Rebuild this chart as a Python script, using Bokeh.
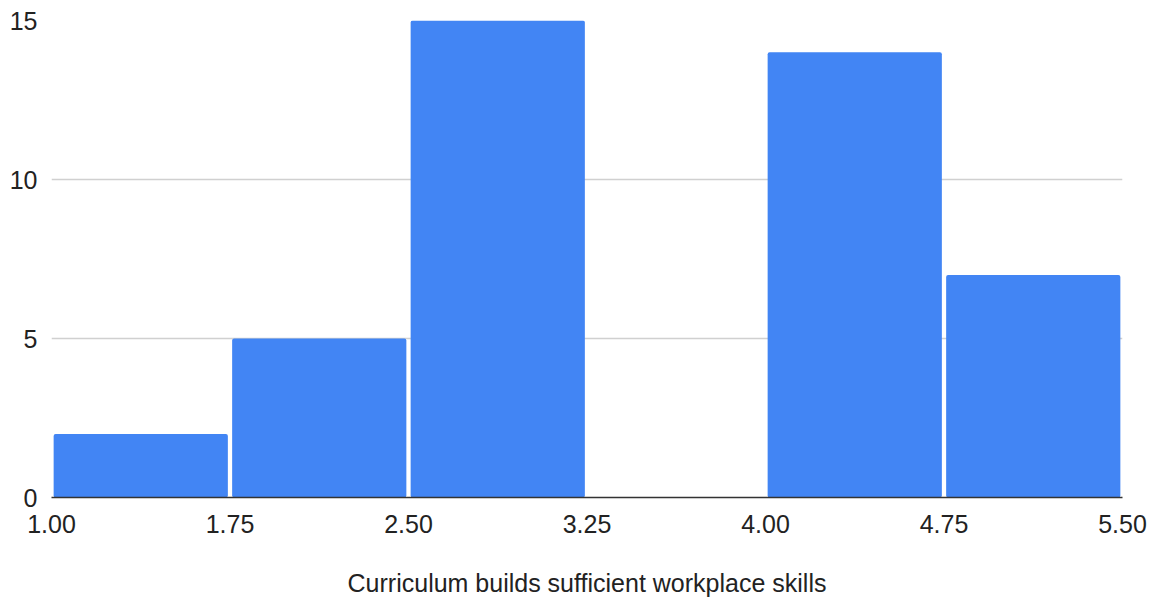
from bokeh.plotting import figure
from bokeh.models import Range1d, FixedTicker, CustomJSTickFormatter
from bokeh.embed import file_html
from bokeh.resources import INLINE

bin_edges = [1.00, 1.75, 2.50, 3.25, 4.00, 4.75, 5.50]
counts = [2, 5, 15, 0, 14, 7]
x_ticks = [1.00, 1.75, 2.50, 3.25, 4.00, 4.75, 5.50]
y_ticks = [0, 5, 10, 15]
x_title = "Curriculum builds sufficient workplace skills"

FONT = "Liberation Sans"
FS = "25px"

p = figure(width=1147, height=592, output_backend="svg", toolbar_location=None,
           x_range=Range1d(1.0, 5.5), y_range=Range1d(0, 15),
           min_border_left=51, min_border_right=25, min_border_top=20, min_border_bottom=95,
           frame_width=1071, frame_height=477)
p.outline_line_color = None
p.background_fill_color = "white"

gap = 0.018
lefts = [e + gap / 2 for e in bin_edges[:-1]]
rights = [e - gap / 2 for e in bin_edges[1:]]
p.quad(left=lefts, right=rights, bottom=[0] * len(counts), top=counts,
       fill_color="#4285F4", line_color=None, border_radius=2)

p.xgrid.visible = False
p.ygrid.grid_line_color = "#d0d0d0"
p.ygrid.grid_line_width = 1.5
p.ygrid.ticker = FixedTicker(ticks=y_ticks)

xa = p.xaxis[0]
xa.ticker = FixedTicker(ticks=x_ticks)
xa.formatter = CustomJSTickFormatter(code="return tick.toFixed(2);")
xa.axis_line_color = "#333333"
xa.axis_line_width = 1.5
xa.major_tick_line_color = None
xa.minor_tick_line_color = None
xa.major_label_text_font = FONT
xa.major_label_text_font_size = FS
xa.major_label_text_color = "#222222"
xa.major_label_standoff = 11
xa.axis_label = x_title
xa.axis_label_text_font = FONT
xa.axis_label_text_font_size = FS
xa.axis_label_text_font_style = "normal"
xa.axis_label_text_color = "#222222"
xa.axis_label_standoff = 33

ya = p.yaxis[0]
ya.ticker = FixedTicker(ticks=y_ticks)
ya.axis_line_color = None
ya.major_tick_line_color = None
ya.minor_tick_line_color = None
ya.major_label_text_font = FONT
ya.major_label_text_font_size = FS
ya.major_label_text_color = "#222222"
ya.major_label_standoff = 8

open("out.html", "w").write(file_html(p, INLINE))
